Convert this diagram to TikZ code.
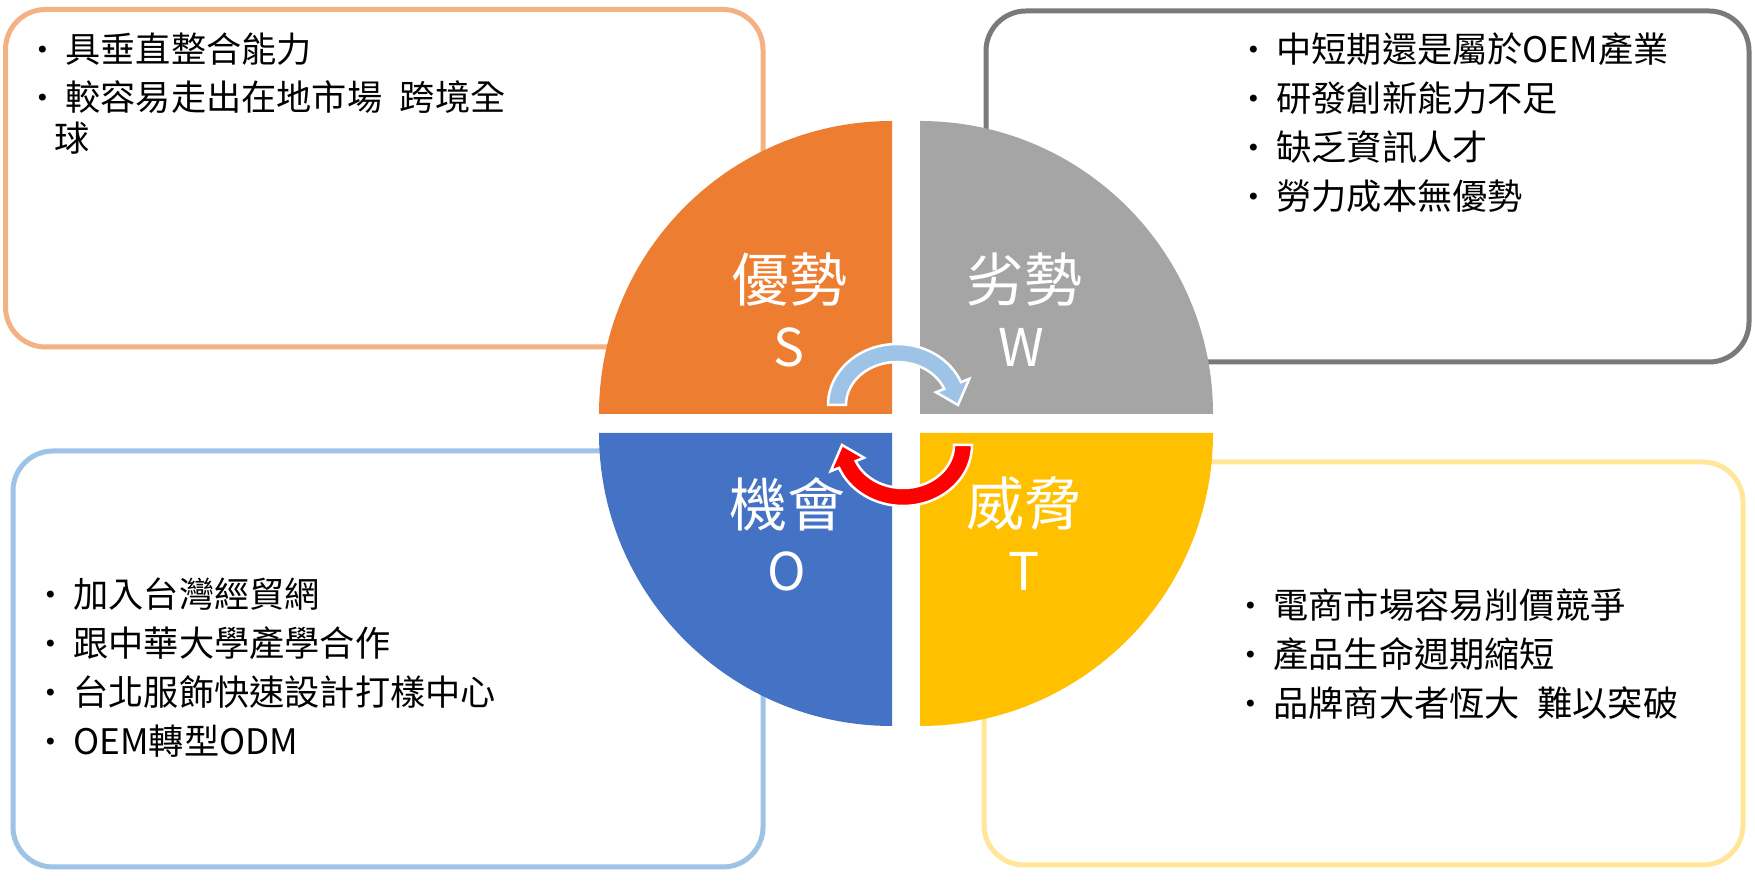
\documentclass[tikz,border=0pt]{standalone}
\usepackage{fontspec}
\setmainfont{Noto Sans CJK TC}
\newfontfamily\dotfont{DejaVu Sans}
\usepackage{tikz}
\usetikzlibrary{positioning}
\usepackage{xcolor}
\definecolor{quadS}{HTML}{ED7D31}
\definecolor{quadW}{HTML}{A5A5A5}
\definecolor{quadO}{HTML}{4472C4}
\definecolor{quadT}{HTML}{FFC000}
\definecolor{cardS}{HTML}{F4B183}
\definecolor{cardW}{HTML}{7A7A7A}
\definecolor{cardO}{HTML}{9DC3E6}
\definecolor{cardT}{HTML}{FFE699}
\definecolor{turnBlue}{HTML}{9DC3E6}
\definecolor{turnRed}{HTML}{FF0000}
\newcommand\bul{\makebox[11.5pt][l]{\hspace{-3.5pt}\raisebox{2pt}{\dotfont\fontsize{12}{12}\selectfont •}}}

\begin{document}
\begin{tikzpicture}[x=0.5pt,y=0.5pt,
  card/.style={line width=2.5pt,rounded corners=20pt,fill=white},
  item/.style={anchor=base west,inner sep=0pt,font=\fontsize{17.6}{20}\selectfont},
  title/.style={text=white,inner sep=0pt,font=\fontsize{29}{33}\selectfont},
  letter/.style={text=white,inner sep=0pt,font=\fontsize{26}{30}\selectfont},
  turn/.style={draw=white,line width=1.25pt}]
 \useasboundingbox (0,0) rectangle (1755,882);
 % the four cards
 \draw[card,draw=cardS] (5.5,535) rectangle (763,872.5);
 \draw[card,draw=cardW] (986,520) rectangle (1749,871);
 \draw[card,draw=cardO] (13,15) rectangle (763,431);
 \draw[card,draw=cardT] (984,17) rectangle (1743,420);
 % card texts
 \node[item] (s0) at (42,819) {\bul 具垂直整合能力};
 \node[item] (s1) at (42,771) {\bul 較容易走出在地市場\enspace 跨境全};
 \node[item] (s2) at (54,730) {球};
 \foreach \t [count=\i from 0] in {中短期還是屬於OEM產業,研發創新能力不足,缺乏資訊人才,勞力成本無優勢}
   \node[item] (w\i) at (1253,{819-49*\i}) {\bul\t};
 \foreach \t [count=\i from 0] in {加入台灣經貿網,跟中華大學產學合作,台北服飾快速設計打樣中心,OEM轉型ODM}
   \node[item] (o\i) at (50,{274-49*\i}) {\bul\t};
 \foreach \t [count=\i from 0] in {電商市場容易削價競爭,產品生命週期縮短,品牌商大者恆大\enspace 難以突破}
   \node[item] (t\i) at (1250,{263-49*\i}) {\bul\t};
 % quadrants
 \fill[quadS] (892,468) -- ++(-293,0) arc[start angle=180,end angle=90,radius=293] -- cycle;
 \fill[quadW] (920,468) -- ++(0,293) arc[start angle=90,end angle=0,radius=293] -- cycle;
 \fill[quadO] (892,449) -- ++(-293,0) arc[start angle=180,end angle=270,radius=293] -- cycle;
 \fill[quadT] (920,449) -- ++(0,-293) arc[start angle=270,end angle=360,radius=293] -- cycle;
 \node[title] (sTitle) at (789,602) {優勢};
 \node[letter] (sLetter) at (789,535) {S};
 \node[title] (wTitle) at (1024,602) {劣勢};
 \node[letter] (wLetter) at (1021,535) {W};
 \node[title] (oTitle) at (787,378) {機會};
 \node[letter] (oLetter) at (787,311) {O};
 \node[title] (tTitle) at (1024,378) {威脅};
 \node[letter] (tLetter) at (1024,311) {T};
 % turning arrows
 \coordinate (bc) at (897,477);
 \coordinate (rc) at (903,437);
 \path[turn,fill=turnBlue] ([shift={(180:51 and 43)}]bc) -- ([shift={(180:69 and 61)}]bc)
   arc[start angle=180,end angle=22,x radius=69,y radius=61]
   -- ([shift={(22:78 and 70)}]bc) -- ([shift={(0:61 and 52)}]bc)
   -- ([shift={(22:42 and 34)}]bc) -- ([shift={(22:51 and 43)}]bc)
   arc[start angle=22,end angle=180,x radius=51,y radius=43] -- cycle;
 \path[turn,fill=turnRed] ([shift={(0:51 and 43)}]rc) -- ([shift={(0:69 and 61)}]rc)
   arc[start angle=0,end angle=-158,x radius=69,y radius=61]
   -- ([shift={(-158:78 and 70)}]rc) -- ([shift={(180:61 and 52)}]rc)
   -- ([shift={(-158:42 and 34)}]rc) -- ([shift={(-158:51 and 43)}]rc)
   arc[start angle=-158,end angle=0,x radius=51,y radius=43] -- cycle;
\end{tikzpicture}
\end{document}
